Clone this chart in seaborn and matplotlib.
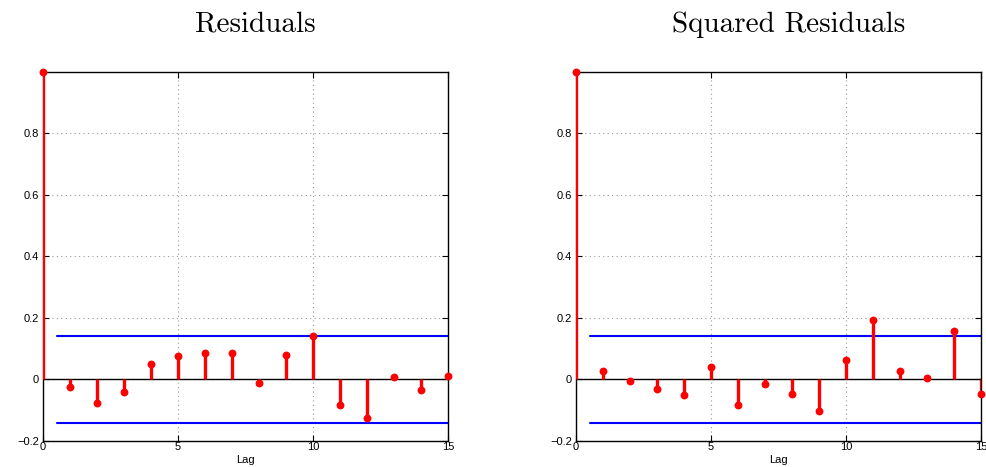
import numpy as np
import matplotlib
matplotlib.use("Agg")
import matplotlib.pyplot as plt
import matplotlib.ticker as mticker
import seaborn as sns

# sample autocorrelations
lags = list(range(0, 16))
acf_resid = [1.0, -0.024, -0.078, -0.042, 0.049, 0.077, 0.087, 0.087,
             -0.010, 0.078, 0.143, -0.083, -0.125, 0.009, -0.035, 0.012]
acf_sq_resid = [1.0, 0.028, -0.006, -0.032, -0.049, 0.039, -0.083, -0.014,
                -0.048, -0.104, 0.063, 0.193, 0.026, 0.005, 0.157, -0.048]
conf_bound = 0.1415
bound_lags = [0.5, 15]
titles = ["Residuals", "Squared Residuals"]
yticks = [-0.2, 0, 0.2, 0.4, 0.6, 0.8]
xticks = [0, 5, 10, 15]

sns.set_style("white")
plt.rcParams['font.family'] = ['Liberation Sans', 'DejaVu Sans']
plt.rcParams['axes.unicode_minus'] = True

fig = plt.figure(figsize=(9.87, 4.67), dpi=100)
ax1 = fig.add_axes([0.0436, 0.0557, 0.4103, 0.7902])
ax2 = fig.add_axes([0.5836, 0.0557, 0.4103, 0.7902])


def fmt(v, pos):
    if abs(v) < 1e-9:
        return "0"
    return ("%.1f" % v).replace("-", "\u2212")


for ax, vals, title in zip([ax1, ax2], [acf_resid, acf_sq_resid], titles):
    ax.set_xlim(0, 15)
    ax.set_ylim(-0.2, 1.0)
    ax.set_xticks(xticks)
    ax.set_yticks(yticks)
    ax.yaxis.set_major_formatter(mticker.FuncFormatter(fmt))
    ax.grid(True, color="#999999", linestyle=(0, (1, 3)), linewidth=0.8)
    ax.set_axisbelow(True)

    ax.axhline(0, color="black", linewidth=1.0, zorder=2)
    ax.plot(bound_lags, [conf_bound, conf_bound], color="blue", linewidth=1.5, zorder=2)
    ax.plot(bound_lags, [-conf_bound, -conf_bound], color="blue", linewidth=1.5, zorder=2)

    ax.vlines(lags, 0, vals, color="red", linewidth=2.4, zorder=3)
    sns.scatterplot(x=lags, y=vals, ax=ax, color="red", s=32, edgecolor="red",
                    linewidth=0, zorder=4, clip_on=False)

    ax.tick_params(direction="in", length=4, labelsize=8, pad=3, colors="black",
                   top=True, right=True, bottom=True, left=True)
    ax.tick_params(axis="x", pad=1)
    for s in ax.spines.values():
        s.set_color("black")
        s.set_linewidth(1.0)
    ax.set_xlabel("Lag", fontsize=8, labelpad=2, color="black")
    ax.set_title(title, fontsize=21, family="cmr10", pad=29, x=0.525, color="black")

fig.savefig("out.png", dpi=100)
